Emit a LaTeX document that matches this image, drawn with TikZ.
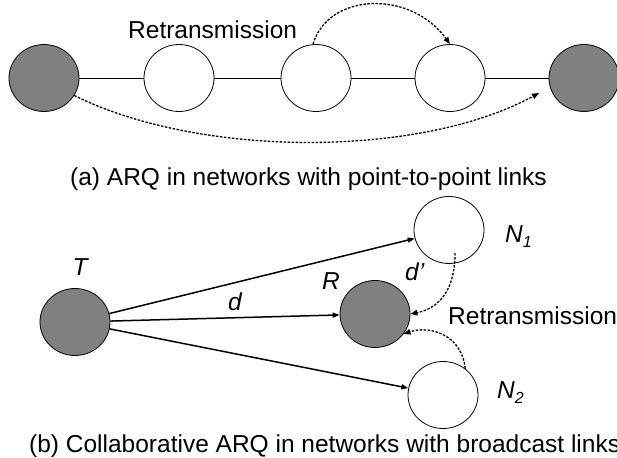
\documentclass[tikz,border=0pt]{standalone}
\usepackage{fontspec}
\setmainfont{Liberation Sans}
\usetikzlibrary{arrows.meta,shapes.geometric}
\definecolor{nodegray}{HTML}{808080}
\begin{document}
\begin{tikzpicture}[x=1pt,y=-1pt,
  lbl/.style={font=\fontsize{24.5}{29}\selectfont,inner sep=0pt},
  ilbl/.style={font=\fontsize{24.5}{29}\selectfont\itshape,inner sep=0pt},
  station/.style={ellipse,draw=black,line width=0.8pt,minimum width=70pt,minimum height=67pt,inner sep=0pt},
  busy/.style={station,fill=nodegray},
  idle/.style={station,fill=white},
  hop/.style={draw=black,line width=0.8pt},
  bcast/.style={draw=black,line width=1.5pt,-{Triangle[length=7pt,width=5pt]}},
  retx/.style={draw=black,line width=1.3pt,dash pattern=on 2.5pt off 1.5pt,-{Triangle[length=7pt,width=5.5pt]}}]
\useasboundingbox (0,0) rectangle (617,457);
\clip (0,0) rectangle (617,457);

% (a) chain of point-to-point links
\node[busy] (a1) at (44,78) {};
\node[idle] (a2) at (179,78) {};
\node[idle] (a3) at (316,78) {};
\node[idle] (a4) at (450,78) {};
\node[busy] (a5) at (584,78) {};
\draw[hop] (a1) -- (a2);
\draw[hop] (a2) -- (a3);
\draw[hop] (a3) -- (a4);
\draw[hop] (a4) -- (a5);

\node[lbl,anchor=base west] (rt1) at (128,39) {Retransmission};
\draw[retx] ([xshift=-3pt]a3.north) .. controls (328,-7) and (410,-11) .. (a4.north);

\coordinate (a5in) at (539,93);
\draw[retx] (a1.-30) .. controls (200,158) and (420,158) .. (a5in);

\node[lbl,anchor=base west] (capa) at (70,185) {(a) ARQ in networks with point-to-point links};

% (b) broadcast links with collaborating neighbours
\node[busy] (T) at (75,322) {};
\node[busy] (R) at (375,314) {};
\node[idle] (N1) at (449,230) {};
\node[idle] (N2) at (443,395) {};

\draw[bcast] (T) -- (N1);
\draw[bcast] (T) -- (R);
\draw[bcast] (T) -- (N2);

\coordinate (n1s) at ([shift={(6,23)}]N1.center);
\draw[retx] (n1s) .. controls (455,300) and (430,310) .. (R.east);
\draw[retx] (N2.50) .. controls (462,335) and (430,325) .. (R.-35);

\node[ilbl] (lT) at (80,267) {T};
\node[ilbl] (lR) at (331,281) {R};
\node[ilbl] (ld) at (235,302) {d};
\node[ilbl,anchor=base west] (ldp) at (405,280) {d’};
\node[ilbl,anchor=base west] (lN1) at (505,242) {N\raisebox{-5pt}{\fontsize{16}{16}\selectfont 1}};
\node[ilbl,anchor=base west] (lN2) at (497,398) {N\raisebox{-5pt}{\fontsize{16}{16}\selectfont 2}};
\node[lbl,anchor=base west] (rt2) at (448,324) {Retransmission};

\node[lbl,anchor=base west] (capb) at (29,452) {(b) Collaborative ARQ in networks with broadcast links};
\end{tikzpicture}
\end{document}
